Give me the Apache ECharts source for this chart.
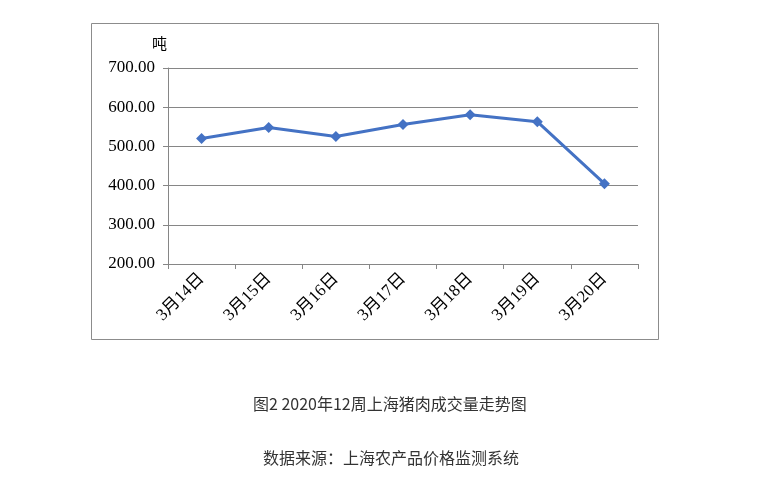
<!DOCTYPE html>
<html>
<head>
<meta charset="utf-8">
<script src="https://cdn.jsdelivr.net/npm/echarts@6/dist/echarts.min.js"></script>
<style>
  html, body { margin: 0; padding: 0; background: #fff; }
  #chart { width: 759px; height: 500px; }
</style>
</head>
<body>
<div id="chart"></div>
<script>
// data
const categories = ['3月14日', '3月15日', '3月16日', '3月17日', '3月18日', '3月19日', '3月20日']
const volume = [520, 548, 525, 556, 581, 563, 405]
const yTicks = [200, 300, 400, 500, 600, 700]
const unitName = '吨'
const captionTitle = '图2 2020年12周上海猪肉成交量走势图'
const captionSource = '数据来源：上海农产品价格监测系统'

const serif = "'Liberation Serif', 'Noto Sans CJK SC', serif"
const sans = "'Noto Sans CJK SC', 'Noto Sans', sans-serif"

const chart = echarts.init(document.getElementById('chart'), null, { renderer: 'canvas' })

chart.setOption({
  animation: false,
  backgroundColor: '#fff',
  title: [
    {
      text: captionTitle,
      left: 253,
      top: 396,
      padding: 0,
      textStyle: { fontFamily: sans, fontSize: 16, fontWeight: 'normal', color: '#333' }
    },
    {
      text: captionSource,
      left: 263,
      top: 450,
      padding: 0,
      textStyle: { fontFamily: sans, fontSize: 16, fontWeight: 'normal', color: '#333' }
    }
  ],
  graphic: [
    {
      type: 'rect',
      shape: { x: 91.5, y: 23.5, width: 567, height: 316 },
      style: { fill: 'none', stroke: '#8c8c8c', lineWidth: 1 },
      silent: true
    },
    {
      type: 'text',
      left: 152,
      top: 36,
      style: { text: unitName, font: '15px ' + sans, fill: '#000' }
    }
  ],
  grid: {
    left: 168,
    top: 68,
    width: 470,
    height: 196,
    containLabel: false
  },
  xAxis: {
    type: 'category',
    data: categories,
    boundaryGap: true,
    axisLine: { lineStyle: { color: '#868686', width: 1 } },
    axisTick: { show: true, length: 5, alignWithLabel: false, lineStyle: { color: '#868686' } },
    axisLabel: {
      rotate: 45,
      margin: 12,
      interval: 0,
      fontFamily: serif,
      fontSize: 17,
      color: '#000'
    },
    splitLine: { show: false }
  },
  yAxis: {
    type: 'value',
    min: yTicks[0],
    max: yTicks[yTicks.length - 1],
    interval: 100,
    axisLine: { show: true, lineStyle: { color: '#868686', width: 1 } },
    axisTick: { show: true, length: 5, lineStyle: { color: '#868686' } },
    axisLabel: {
      margin: 13,
      fontFamily: serif,
      fontSize: 17,
      color: '#000',
      formatter: v => v.toFixed(2)
    },
    splitLine: { show: true, lineStyle: { color: '#868686', width: 1, type: 'solid' } }
  },
  series: [
    {
      name: '成交量',
      type: 'line',
      data: volume,
      symbol: 'diamond',
      symbolSize: 11,
      showSymbol: true,
      lineStyle: { color: '#4472c4', width: 3 },
      itemStyle: { color: '#4472c4' }
    }
  ]
})
</script>
</body>
</html>
